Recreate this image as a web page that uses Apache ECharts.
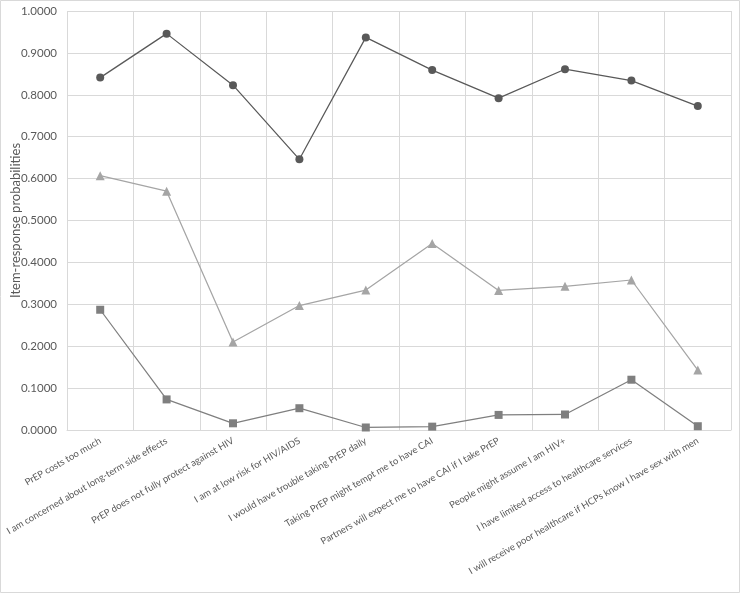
<!DOCTYPE html>
<html>
<head>
<meta charset="utf-8">
<script src="https://cdn.jsdelivr.net/npm/echarts@6/dist/echarts.min.js"></script>
<style>
  html, body { margin: 0; padding: 0; background: #fff; }
  #chart { width: 740px; height: 593px; }
</style>
</head>
<body>
<div id="chart"></div>
<script>
// == Data ====================================================================

const categories = [
  'PrEP costs too much',
  'I am concerned about long-term side effects',
  'PrEP does not fully protect against HIV',
  'I am at low risk for HIV/AIDS',
  'I would have trouble taking PrEP daily',
  'Taking PrEP might tempt me to have CAI',
  'Partners will expect me to have CAI if I take PrEP',
  'People might assume I am HIV+',
  'I have limited access to healthcare services',
  'I will receive poor healthcare if HCPs know I have sex with men'
]

const classHigh = [0.841, 0.946, 0.823, 0.646, 0.937, 0.859, 0.792, 0.861, 0.834, 0.773]
const classMid = [0.607, 0.570, 0.210, 0.297, 0.334, 0.445, 0.333, 0.343, 0.358, 0.143]
const classLow = [0.287, 0.073, 0.016, 0.052, 0.006, 0.008, 0.036, 0.037, 0.120, 0.009]

const yTicks = [0, 0.1, 0.2, 0.3, 0.4, 0.5, 0.6, 0.7, 0.8, 0.9, 1.0]

// == Chart ===================================================================

const font = 'Lato, sans-serif'
const textColor = '#595959'
const gridColor = '#d9d9d9'

function lineSeries (name, data, color, symbol, size) {
  return {
    name,
    type: 'line',
    data,
    symbol,
    symbolSize: size,
    itemStyle: {color},
    lineStyle: {color, width: 1.25},
    emphasis: {disabled: true}
  }
}

const option = {
  animation: false,
  textStyle: {fontFamily: font},
  graphic: [{
    type: 'rect',
    shape: {x: 0.5, y: 0.5, width: 739, height: 592},
    style: {fill: null, stroke: gridColor, lineWidth: 1},
    silent: true
  }],
  grid: {left: 67, right: 9, top: 11, bottom: 163, containLabel: false, outerBoundsMode: 'none'},
  xAxis: {
    type: 'category',
    data: categories,
    boundaryGap: true,
    axisTick: {show: false},
    axisLine: {lineStyle: {color: gridColor}},
    splitLine: {show: true, lineStyle: {color: gridColor}},
    axisLabel: {
      interval: 0,
      rotate: 30,
      margin: 10,
      color: textColor,
      fontSize: 9.5,
      fontFamily: font
    }
  },
  yAxis: {
    type: 'value',
    min: yTicks[0],
    max: yTicks[yTicks.length - 1],
    interval: 0.1,
    name: 'Item-response probabilities',
    nameLocation: 'middle',
    nameGap: 45,
    nameMoveOverlap: false,
    nameTextStyle: {color: textColor, fontSize: 13, fontFamily: font},
    axisLine: {show: false},
    axisTick: {show: false},
    splitLine: {lineStyle: {color: gridColor}},
    axisLabel: {
      color: textColor,
      fontSize: 11.5,
      fontFamily: font,
      margin: 10,
      formatter: v => v.toFixed(4)
    }
  },
  series: [
    lineSeries('Class 1', classHigh, '#595959', 'circle', 8),
    lineSeries('Class 2', classMid, '#a5a5a5', 'triangle', 9),
    lineSeries('Class 3', classLow, '#7f7f7f', 'rect', 8)
  ]
}

echarts.init(document.getElementById('chart')).setOption(option)
</script>
</body>
</html>
